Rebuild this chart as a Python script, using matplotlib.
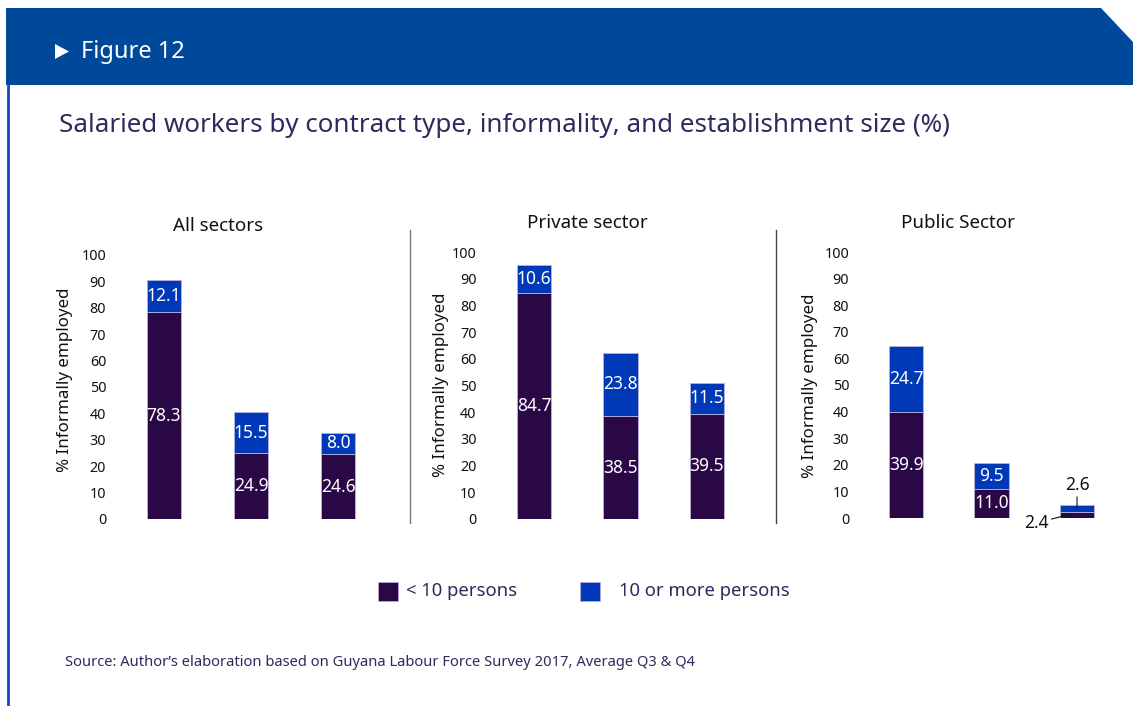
import matplotlib
matplotlib.use("Agg")
import matplotlib.pyplot as plt
from matplotlib.patches import Polygon, Rectangle
from matplotlib.lines import Line2D

plt.rcParams['font.family'] = ['Noto Sans', 'DejaVu Sans']

W, H = 1133, 706

# Data
panels = ["All sectors", "Private sector", "Public Sector"]
small_firms = [[78.3, 24.9, 24.6], [84.7, 38.5, 39.5], [39.9, 11.0, 2.4]]
large_firms = [[12.1, 15.5, 8.0], [10.6, 23.8, 11.5], [24.7, 9.5, 2.6]]
series_names = ["< 10 persons", "10 or more persons"]
yticks = [0, 10, 20, 30, 40, 50, 60, 70, 80, 90, 100]

DARK = "#2a0845"
BLUE = "#0039b7"
HEADER = "#00489a"
NAVY = "#2b2c5c"


def fx(x):
    return x / W


def fy(y):
    return 1 - y / H


fig = plt.figure(figsize=(W / 100, H / 100), dpi=100)

# Header band with clipped corner
header = Polygon([(fx(6), fy(8)), (fx(1101), fy(8)), (fx(1133), fy(42)),
                  (fx(1133), fy(85)), (fx(6), fy(85))],
                 closed=True, transform=fig.transFigure, facecolor=HEADER,
                 edgecolor="none", zorder=0)
fig.patches.append(header)
fig.lines.append(Line2D([fx(7.5), fx(7.5)], [fy(85), fy(706)],
                        transform=fig.transFigure, color="#1646c4", lw=2))
tri = Polygon([(fx(55), fy(44)), (fx(55), fy(59)), (fx(69), fy(51.5))],
              closed=True, transform=fig.transFigure, facecolor="white",
              edgecolor="none")
fig.patches.append(tri)
fig.text(fx(81), fy(52), "Figure 12", color="white", fontsize=17,
         ha="left", va="center")

fig.text(fx(59), fy(126), "Salaried workers by contract type, informality, "
         "and establishment size (%)", color=NAVY, fontsize=18.7,
         ha="left", va="center")

# Panel geometry: (first bar centre, bar spacing, y of 0, y of 100, tick pad)
geom = [(164, 87, 519, 255, 4),
        (534, 86.5, 519, 252, 4),
        (906, 85.5, 518, 252, 4)]
title_pos = [(218, 226), (587, 223), (958, 223)]
ylabel_pos = [(65, 380), (441, 385), (810, 386)]

for i, name in enumerate(panels):
    c0, sp, y0, y100, pad = geom[i]
    left = c0 - 0.6 * sp
    right = c0 + 2.6 * sp
    ax = fig.add_axes([fx(left), fy(y0), (right - left) / W, (y0 - y100) / H])
    ax.set_xlim(-0.6, 2.6)
    ax.set_ylim(0, 100)
    x = list(range(len(small_firms[i])))
    ax.bar(x, small_firms[i], width=0.4, color=DARK,
           edgecolor="#b9b2da", linewidth=0.6)
    ax.bar(x, large_firms[i], width=0.4, bottom=small_firms[i],
           color=BLUE, edgecolor="#b9b2da", linewidth=0.6)
    for s in ax.spines.values():
        s.set_visible(False)
    ax.set_xticks([])
    ax.set_yticks(yticks)
    ax.tick_params(axis="y", length=0, pad=pad, labelsize=10.3,
                   labelcolor="#111111")
    for j in x:
        lo, hi = small_firms[i][j], large_firms[i][j]
        if lo + hi > 8:
            ax.text(j, lo / 2, f"{lo:.1f}", color="white", fontsize=12.5,
                    ha="center", va="center")
            ax.text(j, lo + hi / 2, f"{hi:.1f}", color="white", fontsize=12.5,
                    ha="center", va="center")
        else:
            ax.annotate(f"{hi:.1f}", xy=(j, lo + hi / 2), xytext=(0, 14),
                        textcoords="offset pixels", ha="center", va="bottom",
                        fontsize=12.5, color="#111111", annotation_clip=False,
                        arrowprops=dict(arrowstyle="-", lw=0.8, color="#111111",
                                        shrinkA=0, shrinkB=0))
            ax.annotate(f"{lo:.1f}", xy=(j - 0.1, lo / 2), xytext=(-32, -8),
                        textcoords="offset pixels", ha="center", va="center",
                        fontsize=12.5, color="#111111", annotation_clip=False,
                        arrowprops=dict(arrowstyle="-", lw=0.8, color="#111111",
                                        shrinkA=0, shrinkB=0))
    tx, ty = title_pos[i]
    fig.text(fx(tx), fy(ty), name, fontsize=13.5, color="#111111",
             ha="center", va="center")
    lx, ly = ylabel_pos[i]
    fig.text(fx(lx), fy(ly), "% Informally employed", fontsize=12.2,
             color="#111111", rotation=90, ha="center", va="center")

# Panel separators
for sx, col in [(410, "#777777"), (776, "#444444")]:
    fig.lines.append(Line2D([fx(sx), fx(sx)], [fy(230), fy(523)],
                            transform=fig.transFigure, color=col, lw=1))

# Legend
for (px, tx), col, label in zip([(378, 406), (580, 619)], [DARK, BLUE],
                                series_names):
    fig.patches.append(Rectangle((fx(px), fy(601)), 20 / W, 19 / H,
                                 transform=fig.transFigure, facecolor=col,
                                 edgecolor="#b9b2da", linewidth=0.5))
    fig.text(fx(tx), fy(591), label, fontsize=13.3, color=NAVY,
             ha="left", va="center")

fig.text(fx(65), fy(662), "Source: Author\u2019s elaboration based on Guyana "
         "Labour Force Survey 2017, Average Q3 & Q4", fontsize=10.6,
         color=NAVY, ha="left", va="center")

fig.savefig("out.png", dpi=100)
